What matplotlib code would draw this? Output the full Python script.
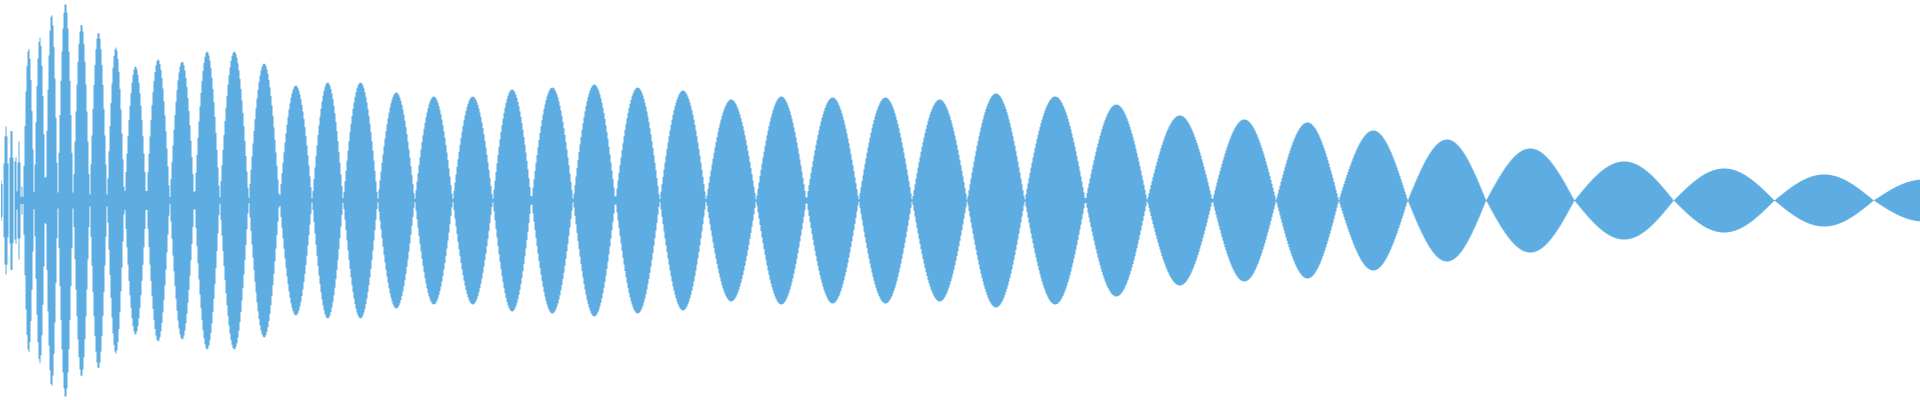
import numpy as np
import matplotlib
matplotlib.use("Agg")
import matplotlib.pyplot as plt

# Cruces por cero de la onda (posicion horizontal, en pixeles)
cruces = [-1, 2.5, 8.5, 13.5, 16.7, 20.3, 22.7, 33.7, 45, 57.3, 72.7, 89.3,
          106.7, 124, 146, 169.3, 194, 219.3, 248.3, 279, 311.7, 342.7, 377.3,
          414.3, 452.3, 492.3, 531, 572.7, 615, 659.3, 705.7, 755.7, 806,
          858.3, 911.7, 966.7, 1024.3, 1085, 1146.7, 1212, 1275.7, 1338.3,
          1407.3, 1485.7, 1574, 1673.3, 1774, 1873.3, 1973]

# Amplitud maxima de cada lobulo (entre dos cruces)
picos = [21, 74, 73, 47, 59, 14, 152, 163, 186, 197, 176, 168,
         153, 134, 141, 139, 149, 149, 137, 115, 118, 118, 108,
         104, 104, 111, 113, 116, 113, 110, 101, 104, 103,
         103, 101, 107, 104, 96, 85, 81, 78, 70,
         61, 52, 39, 32, 26, 21]

color = "#5DADE2"

# muestras de la onda, una por pixel
x = np.arange(0, 1920) + 0.5
onda = np.zeros_like(x)
for a, b, p in zip(cruces[:-1], cruces[1:], picos):
    m = (x >= a) & (x < b)
    onda[m] = p * np.sin(np.pi * (x[m] - a) / (b - a))

fig = plt.figure(figsize=(19.2, 4), dpi=100)
ax = fig.add_axes([0, 0, 1, 1])
ax.fill_between(x, -onda, onda, step="mid", color=color, linewidth=0)
ax.set_xlim(0, 1920)
ax.set_ylim(-200, 200)
ax.axis("off")

fig.savefig("out.png", dpi=100, facecolor="white")
